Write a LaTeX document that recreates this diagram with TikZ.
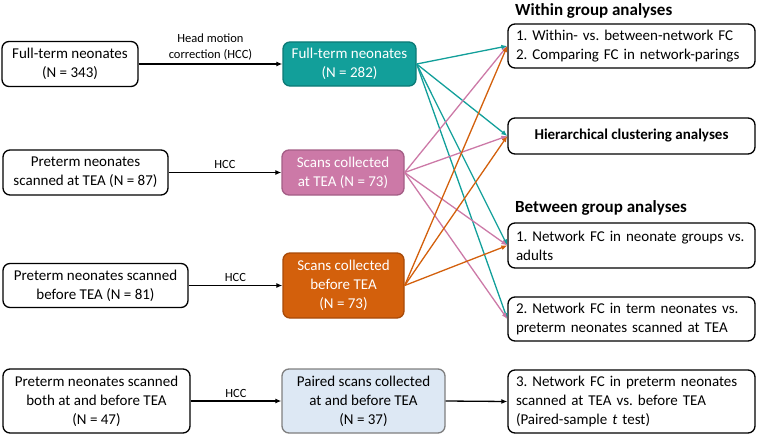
\documentclass[tikz,border=0pt]{standalone}
\usepackage{fontspec}
\setmainfont{Carlito}
\frenchspacing
\usetikzlibrary{arrows.meta}
\definecolor{termfill}{HTML}{129F9A}
\definecolor{termline}{HTML}{0C7A76}
\definecolor{teafill}{HTML}{CC79A7}
\definecolor{tealine}{HTML}{A45E86}
\definecolor{prefill}{HTML}{D3600C}
\definecolor{preline}{HTML}{A84A08}
\definecolor{pairfill}{HTML}{DDE8F4}
\definecolor{pairline}{HTML}{7F7F7F}
\tikzset{
	box/.style={draw, rounded corners=7pt, line width=1.3pt, align=center, inner sep=2pt, font=\fontsize{15}{19}\selectfont},
	resbox/.style={box, align=left, inner xsep=8pt, text width=231pt, minimum height=#1},
	hcc/.style={font=\fontsize{12.5}{16}\selectfont, align=center, inner sep=3pt},
	head/.style={font=\fontsize{17}{20}\selectfont\bfseries, anchor=base west, inner sep=0pt},
	flow/.style={line width=1.3pt, -{Latex[length=6pt,width=5pt]}},
	link/.style={line width=1.3pt, -{Latex[length=6pt,width=5pt]}, color=#1}
}

\begin{document}
\begin{tikzpicture}[x=1pt, y=-1pt]
			%%%%% START %%%%%
			\useasboundingbox (0,0) rectangle (757,436);
			
			% samples before correction
			\node[box, minimum width=136pt, minimum height=45pt] (termraw) at (70,64) {Full-term neonates\\(N = 343)};
			\node[box, minimum width=165pt, minimum height=45pt] (tearaw) at (85.5,172.5) {Preterm neonates\\scanned at TEA (N = 87)};
			\node[box, minimum width=185pt, minimum height=44pt] (preraw) at (95.5,285.5) {Preterm neonates scanned\\before TEA (N = 81)};
			\node[box, minimum width=187pt, minimum height=64pt] (pairraw) at (96.5,401) {Preterm neonates scanned\\both at and before TEA\\(N = 47)};
			
			% samples after correction
			\node[box, fill=termfill, draw=termline, text=white, minimum width=133pt, minimum height=44pt] (termscan) at (349.5,64) {Full-term neonates\\(N = 282)};
			\node[box, fill=teafill, draw=tealine, text=white, minimum width=122pt, minimum height=45pt] (teascan) at (343,172.5) {Scans collected\\at TEA (N = 73)};
			\node[box, fill=prefill, draw=preline, text=white, minimum width=121pt, minimum height=65pt] (prescan) at (343.5,285.5) {Scans collected\\before TEA\\(N = 73)};
			\node[box, fill=pairfill, draw=pairline, minimum width=163pt, minimum height=64pt] (pairscan) at (363.5,401) {Paired scans collected\\at and before TEA\\(N = 37)};
			
			% analyses
			\node[head] (withinhead) at (515,16) {Within group analyses};
			\node[resbox=44pt] (withinfc) at (631.5,46) {1. Within- vs. between-network FC\\2. Comparing FC in network-parings};
			\node[box, minimum width=247pt, minimum height=36pt, font=\fontsize{15}{19}\selectfont\bfseries] (cluster) at (631.5,136) {Hierarchical clustering analyses};
			
			\node[head] (betweenhead) at (515,212) {Between group analyses};
			\node[resbox=45pt] (adults) at (631.5,245.5) {1. Network FC in neonate groups vs.\\adults};
			\node[resbox=44pt] (termpre) at (631.5,319) {2. Network FC in term neonates vs.\\preterm neonates scanned at TEA};
			\node[resbox=63pt] (paired) at (631.5,401.5) {3. Network FC in preterm neonates\\scanned at TEA vs. before TEA\\(Paired-sample \textit{t} test)};
			
			% head motion correction
			\draw[flow] (termraw.east) -- (termscan.west) node[hcc, midway, above] {Head motion\\correction (HCC)};
			\draw[flow] (tearaw.east) -- (teascan.west) node[hcc, midway, above] {HCC};
			\draw[flow] (preraw.east) -- (prescan.west) node[hcc, midway, above] {HCC};
			\draw[flow] (pairraw.east) -- (pairscan.west) node[hcc, midway, above] {HCC};
			\draw[flow] (pairscan.east) -- (paired.west);
			
			% links to analyses
			\foreach \target in {withinfc, cluster, adults, termpre}
				\draw[link=termfill] (termscan.east) -- (\target.west);
			\foreach \target in {withinfc, cluster, adults, termpre}
				\draw[link=teafill] (teascan.east) -- (\target.west);
			\foreach \target in {withinfc, cluster, adults}
				\draw[link=prefill] (prescan.east) -- (\target.west);
			
			%%%%% END %%%%%
		\end{tikzpicture}
\end{document}
